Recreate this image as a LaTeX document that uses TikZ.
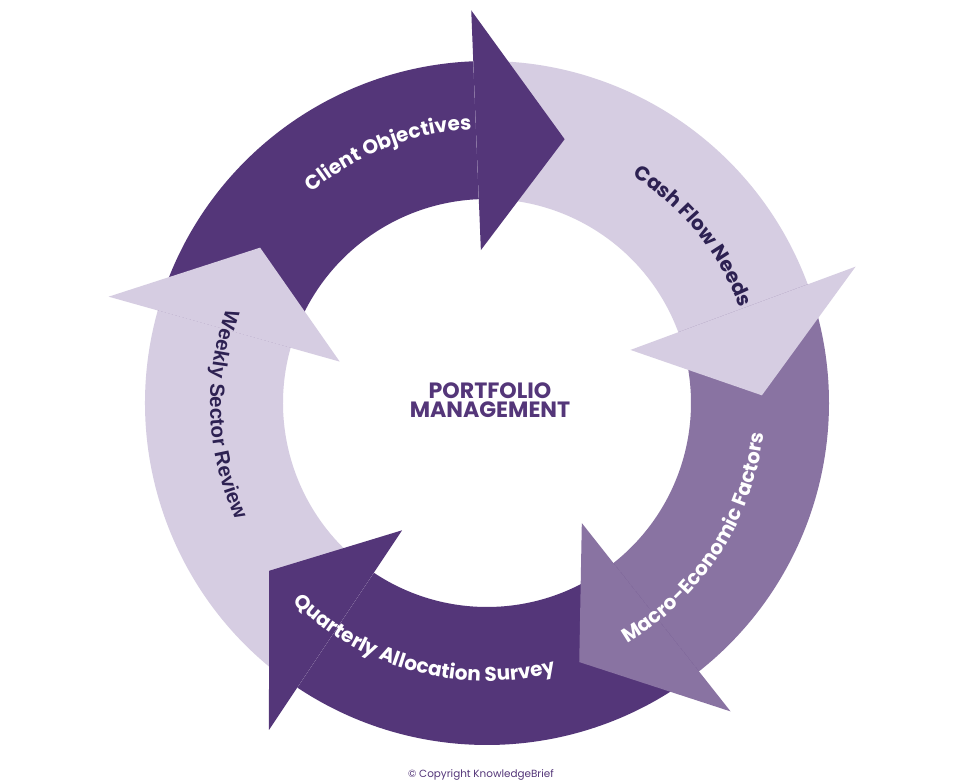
\documentclass[tikz,border=0pt]{standalone}
\usepackage{fontspec}
\setmainfont{Poppins}
\newfontfamily\weeklyfont{Liberation Sans}
\usetikzlibrary{decorations.text}
\definecolor{plumdark}{RGB}{84,54,121}
\definecolor{plummid}{RGB}{137,115,162}
\definecolor{plumlight}{RGB}{214,205,226}
\definecolor{plumink}{RGB}{45,33,82}
\begin{document}
\begin{tikzpicture}[x=0.75pt, y=0.75pt,
    darkpart/.style = {fill=plumdark},
    midpart/.style = {fill=plummid},
    lightpart/.style = {fill=plumlight},
    arclabel/.style = {decorate}]
    \useasboundingbox[fill=white] (-487,-379) rectangle (473,403);

    % ring bodies
    \path[darkpart] (164.3:342) arc[start angle=164.3, end angle=92.3, radius=342] -- (92.3:204) arc[start angle=92.3, end angle=164.3, radius=204] -- cycle;
    \path[lightpart] (92.3:342) arc[start angle=92.3, end angle=20.3, radius=342] -- (20.3:204) arc[start angle=20.3, end angle=92.3, radius=204] -- cycle;
    \path[midpart] (20.3:342) arc[start angle=20.3, end angle=-51.7, radius=342] -- (-51.7:204) arc[start angle=-51.7, end angle=20.3, radius=204] -- cycle;
    \path[darkpart] (-51.7:342) arc[start angle=-51.7, end angle=-123.7, radius=342] -- (-123.7:204) arc[start angle=-123.7, end angle=-51.7, radius=204] -- cycle;
    \path[lightpart] (236.3:342) arc[start angle=236.3, end angle=164.3, radius=342] -- (164.3:204) arc[start angle=164.3, end angle=236.3, radius=204] -- cycle;

    % arrow heads
    \path[darkpart] (92.3:393) -- (73.6:275) -- (92.3:153) -- cycle;
    \path[lightpart] (20.3:393) -- (1.6:275) -- (20.3:153) -- cycle;
    \path[midpart] (-51.7:393) -- (-70.4:275) -- (-51.7:153) -- cycle;
    \path[darkpart] (-123.7:393) -- (-142.4:275) -- (-123.7:153) -- cycle;
    \path[lightpart] (164.3:393) -- (145.6:275) -- (164.3:153) -- cycle;

    % labels along the ring
    \path[arclabel, decoration={text along path, text align=center, text color=white,
        text={|\bfseries\fontsize{15}{18}\selectfont|Client Objectives}}]
        (150:274) arc[start angle=150, end angle=73, radius=274];
    \path[arclabel, decoration={text along path, text align=center, text color=plumink,
        text={|\bfseries\fontsize{15}{18}\selectfont|Cash Flow Needs}}]
        (78:270) arc[start angle=78, end angle=0, radius=270];
    \path[arclabel, decoration={text along path, text align=center, text color=white,
        text={|\bfseries\fontsize{15}{18}\selectfont|Macro-Economic Factors}}]
        (-72:278) arc[start angle=-72, end angle=6, radius=278];
    \path[arclabel, decoration={text along path, text align=center, text color=white,
        text={|\bfseries\fontsize{15}{18}\selectfont|Quarterly Allocation Survey}}]
        (-145:278) arc[start angle=-145, end angle=-65, radius=278];
    \path[arclabel, decoration={text along path, text align=center, text color=plumink,
        text={|\weeklyfont\bfseries\fontsize{15.4}{18}\selectfont|Weekly Sector Review}}]
        (140:277) arc[start angle=140, end angle=225, radius=277];

    \node (title) at (3,3) [align=center, text=plumdark, font=\bfseries\fontsize{16.6}{14.25}\selectfont] {PORTFOLIO\\MANAGEMENT};
    \node (copyright) at (-6,-372) [text=plumdark, font=\fontsize{7.8}{9}\selectfont] {© Copyright KnowledgeBrief};
\end{tikzpicture}
\end{document}
